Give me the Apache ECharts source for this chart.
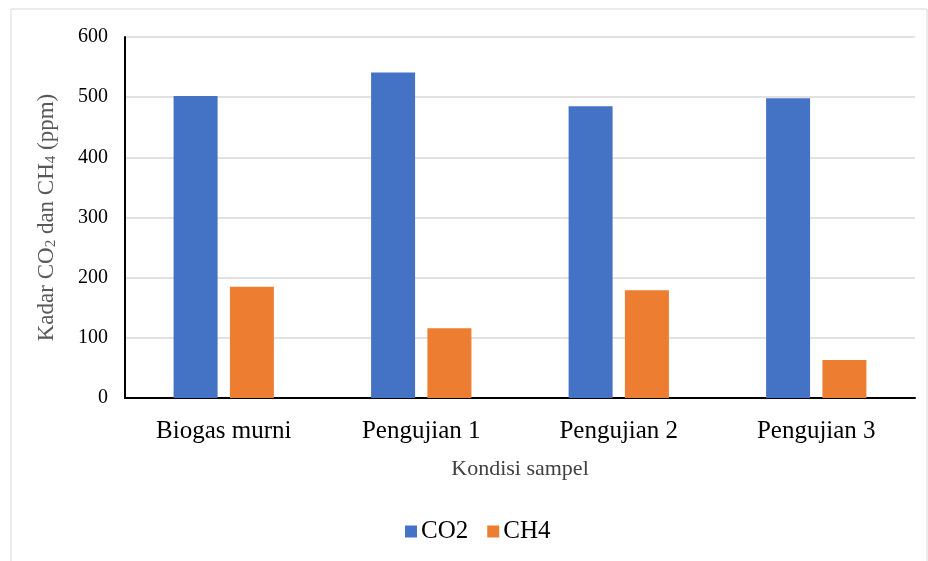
<!DOCTYPE html>
<html>
<head>
<meta charset="utf-8">
<script src="https://cdn.jsdelivr.net/npm/echarts@6/dist/echarts.min.js"></script>
<style>html,body{margin:0;padding:0;background:#fff;}#c{width:928px;height:561px;}</style>
</head>
<body>
<div id="c"></div>
<script>
const categories = ['Biogas murni', 'Pengujian 1', 'Pengujian 2', 'Pengujian 3'];
const co2 = [502, 541, 485, 498];
const ch4 = [185, 116, 179, 63];
const yTicks = { min: 0, max: 600, interval: 100 };

const chart = echarts.init(document.getElementById('c'));
const font = 'Liberation Serif, Times New Roman, serif';
chart.setOption({
  animation: false,
  textStyle: { fontFamily: font },
  graphic: [{
    type: 'rect', shape: { x: 11, y: 9, width: 916, height: 570 },
    style: { fill: 'none', stroke: '#d9d9d9', lineWidth: 1 }, silent: true
  }],
  grid: { left: 125, right: 13, top: 37, bottom: 163, containLabel: false },
  legend: {
    bottom: 12, left: 400, itemWidth: 12, itemHeight: 12, itemGap: 19,
    icon: 'rect',
    textStyle: { fontFamily: font, fontSize: 25, color: '#000', padding: [0, 0, 0, -1] },
    data: ['CO2', 'CH4']
  },
  xAxis: {
    type: 'category', data: categories,
    name: 'Kondisi sampel', nameLocation: 'middle', nameGap: 60,
    nameTextStyle: { fontFamily: font, fontSize: 22, color: '#404040' },
    axisLine: { lineStyle: { color: '#000', width: 2 } },
    axisTick: { show: false },
    axisLabel: { fontFamily: font, fontSize: 25, color: '#000', margin: 21 }
  },
  yAxis: {
    type: 'value', min: yTicks.min, max: yTicks.max, interval: yTicks.interval,
    name: '{n|Kadar CO}{s|2}{n| dan CH}{s|4}{n| (ppm)}',
    nameLocation: 'middle', nameGap: 66, nameRotate: 90,
    nameTextStyle: {
      rich: {
        n: { fontFamily: font, fontSize: 23, color: '#595959' },
        s: { fontFamily: font, fontSize: 15, color: '#595959', verticalAlign: 'bottom', padding: [10, 0, 0, 0] }
      }
    },
    axisLine: { show: true, lineStyle: { color: '#000', width: 2 } },
    axisTick: { show: false },
    splitLine: { lineStyle: { color: '#d9d9d9', width: 1.5 } },
    axisLabel: { fontFamily: font, fontSize: 20, color: '#000', margin: 17 }
  },
  series: [
    { name: 'CO2', type: 'bar', data: co2, barWidth: 44, barGap: '28%', itemStyle: { color: '#4472C4' } },
    { name: 'CH4', type: 'bar', data: ch4, barWidth: 44, itemStyle: { color: '#ED7D31' } }
  ]
});
</script>
</body>
</html>
